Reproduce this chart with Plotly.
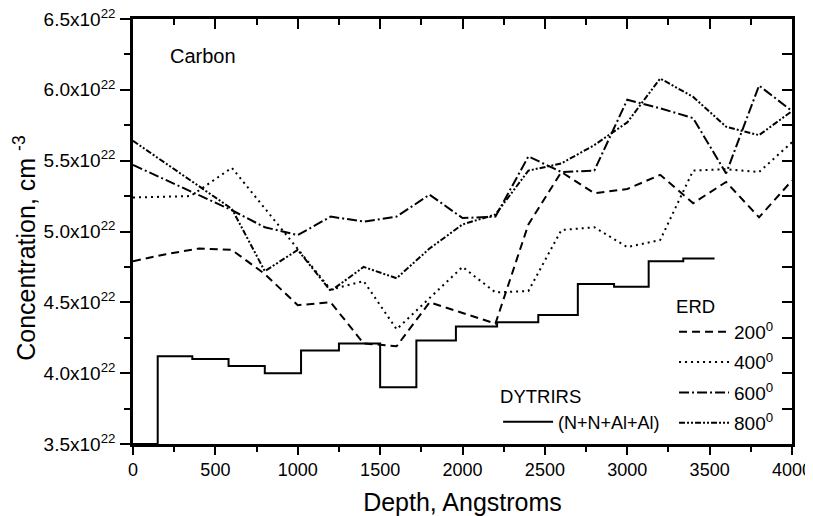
import plotly.graph_objects as go

# carbon concentration, units of 1e22 cm^-3
erd200_depth = [0, 200, 400, 600, 800, 1000, 1200, 1400, 1600, 1800, 2200, 2400, 2600, 2800, 3000, 3200, 3400, 3600, 3800, 4000]
erd200_conc = [4.79, 4.84, 4.88, 4.87, 4.70, 4.48, 4.50, 4.21, 4.19, 4.50, 4.35, 5.05, 5.42, 5.27, 5.30, 5.40, 5.20, 5.35, 5.10, 5.36]

erd400_depth = [0, 350, 600, 1000, 1200, 1400, 1600, 2000, 2200, 2400, 2600, 2800, 3000, 3200, 3400, 3600, 3800, 4000]
erd400_conc = [5.24, 5.25, 5.45, 4.88, 4.59, 4.65, 4.31, 4.75, 4.57, 4.58, 5.01, 5.03, 4.89, 4.94, 5.43, 5.44, 5.42, 5.63]

erd600_depth = [0, 600, 800, 1000, 1200, 1400, 1600, 1800, 2000, 2200, 2400, 2600, 2800, 3000, 3200, 3400, 3600, 3800, 4000]
erd600_conc = [5.47, 5.15, 5.03, 4.975, 5.105, 5.07, 5.105, 5.26, 5.095, 5.105, 5.53, 5.42, 5.43, 5.93, 5.87, 5.80, 5.41, 6.03, 5.85]

erd800_depth = [0, 600, 800, 1000, 1200, 1400, 1600, 1800, 2000, 2200, 2400, 2600, 2800, 3000, 3200, 3400, 3600, 3800, 4000]
erd800_conc = [5.64, 5.16, 4.72, 4.87, 4.58, 4.75, 4.67, 4.88, 5.05, 5.12, 5.43, 5.48, 5.61, 5.77, 6.08, 5.95, 5.74, 5.68, 5.85]

# DYTRIRS step profile (left edge of each layer)
dyt_depth = [0, 150, 360, 580, 800, 1020, 1250, 1500, 1720, 1960, 2210, 2460, 2700, 2920, 3130, 3340, 3530]
dyt_conc = [3.5, 4.12, 4.10, 4.05, 4.00, 4.16, 4.21, 3.90, 4.23, 4.33, 4.36, 4.41, 4.63, 4.61, 4.79, 4.81, 4.81]

y_ticks = [3.5, 4.0, 4.5, 5.0, 5.5, 6.0, 6.5]
y_ticktext = ['%.1fx10<sup>22</sup>' % v for v in y_ticks]
x_ticks = [0, 500, 1000, 1500, 2000, 2500, 3000, 3500, 4000]

FONT = 'Liberation Sans, Arial, sans-serif'

fig = go.Figure()

erd = [
    (erd200_depth, erd200_conc, '200<sup>0</sup>', '8px,5px'),
    (erd400_depth, erd400_conc, '400<sup>0</sup>', '2px,4px'),
    (erd600_depth, erd600_conc, '600<sup>0</sup>', '10px,3px,2px,3px'),
    (erd800_depth, erd800_conc, '800<sup>0</sup>', '6px,2px,2px,2px,2px,2px'),
]
for depth, conc, name, dash in erd:
    # one legend group per trace so tracegroupgap spaces the rows
    fig.add_trace(go.Scatter(
        x=depth, y=conc, mode='lines', name=name, legendgroup=name,
        line=dict(color='black', width=2, dash=dash), legend='legend'
    ))

fig.add_trace(go.Scatter(
    x=dyt_depth, y=dyt_conc, mode='lines', name='(N+N+Al+Al)',
    line=dict(color='black', width=2, shape='hv'), legend='legend2'
))

# empty trace so the mirrored top/right axes get drawn
fig.add_trace(go.Scatter(x=[], y=[], xaxis='x2', yaxis='y2', showlegend=False, hoverinfo='skip'))

axis_common = dict(showgrid=False, zeroline=False, linecolor='black', linewidth=2.5,
                   tickcolor='black', tickwidth=2, automargin=False)

# page body has an 8px margin, so the figure is 8px smaller than the window
fig.update_layout(
    width=805, height=508,
    margin=dict(l=125, r=21, t=11, b=72),
    plot_bgcolor='white', paper_bgcolor='white',
    font=dict(family=FONT, size=18, color='black'),
    xaxis=dict(
        range=[0, 4000], tickmode='array', tickvals=x_ticks,
        ticks='outside', ticklen=8, tickfont=dict(size=18), ticklabeloverflow='allow',
        minor=dict(ticks='outside', ticklen=5, dtick=250, tick0=0, tickwidth=2, tickcolor='black', showgrid=False),
        title=dict(text='Depth, Angstroms', font=dict(size=25), standoff=19),
        **axis_common
    ),
    xaxis2=dict(
        range=[0, 4000], overlaying='x', side='top', anchor='y', showticklabels=False,
        tickmode='array', tickvals=x_ticks, ticks='inside', ticklen=10,
        minor=dict(ticks='inside', ticklen=6, dtick=250, tick0=0, tickwidth=2, tickcolor='black', showgrid=False),
        **axis_common
    ),
    yaxis=dict(
        range=[3.5, 6.5], tickmode='array', tickvals=y_ticks, ticktext=y_ticktext,
        ticks='outside', ticklen=10, ticklabelstandoff=1, tickfont=dict(size=19),
        ticklabeloverflow='allow',
        minor=dict(ticks='outside', ticklen=6, dtick=0.25, tick0=3.5, tickwidth=2, tickcolor='black', showgrid=False),
        **axis_common
    ),
    yaxis2=dict(
        range=[3.5, 6.5], overlaying='y', side='right', anchor='x', showticklabels=False,
        tickmode='array', tickvals=y_ticks, ticks='inside', ticklen=10,
        minor=dict(ticks='inside', ticklen=10, dtick=0.25, tick0=3.5, tickwidth=2, tickcolor='black', showgrid=False),
        **axis_common
    ),
    legend=dict(
        title=dict(text='ERD', side='top', font=dict(size=18.5)), x=0.821, y=0.365,
        xanchor='left', yanchor='top',
        bgcolor='rgba(0,0,0,0)', font=dict(size=19), itemwidth=50, tracegroupgap=2.6
    ),
    legend2=dict(
        title=dict(text='DYTRIRS', side='top', font=dict(size=18.5)), x=0.554, y=0.152,
        xanchor='left', yanchor='top',
        bgcolor='rgba(0,0,0,0)', font=dict(size=18), itemwidth=50
    ),
    annotations=[
        dict(text='Carbon', x=212, y=6.24, xref='x', yref='y', xanchor='left', yanchor='middle',
             showarrow=False, font=dict(size=20)),
        dict(text='Concentration, cm <sup>-3</sup>', x=-0.165, y=0.46, xref='paper', yref='paper',
             xanchor='center', yanchor='middle',
             textangle=-90, showarrow=False, font=dict(size=25)),
    ],
)

fig.write_html('out.html')
